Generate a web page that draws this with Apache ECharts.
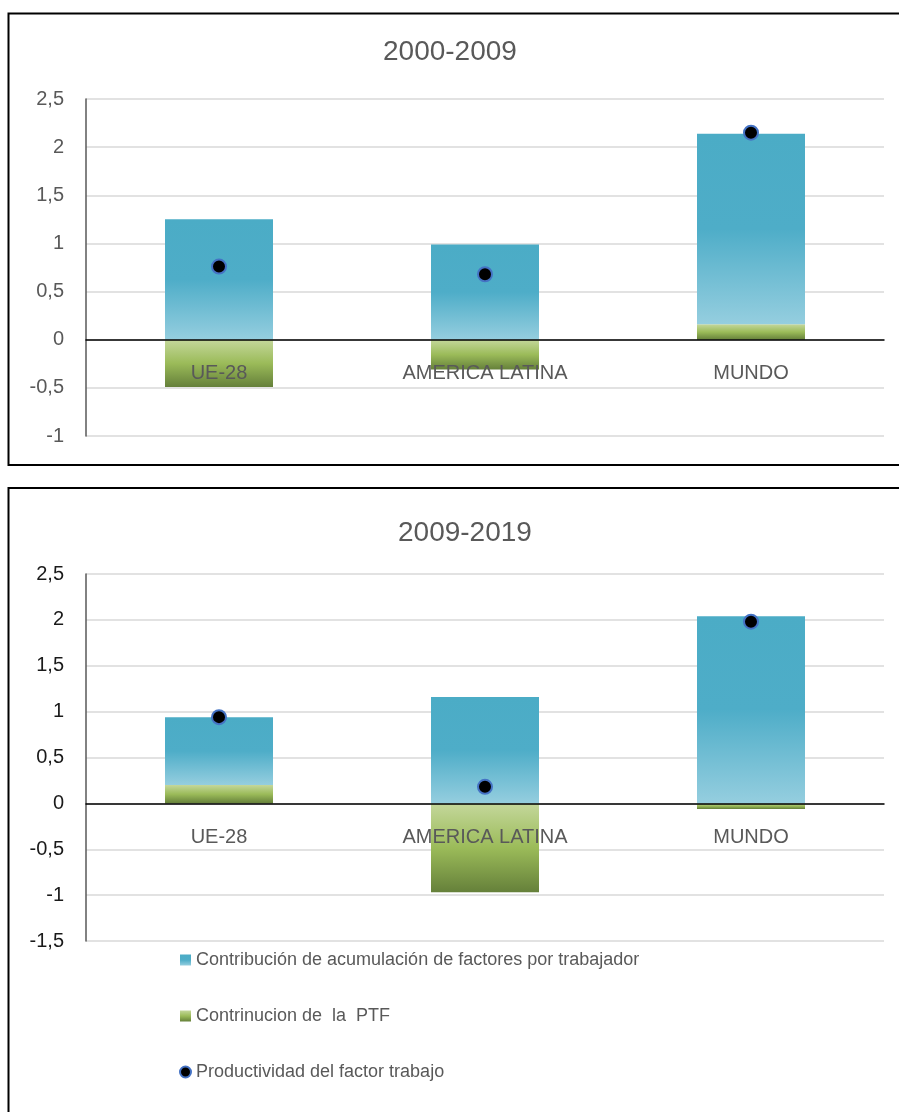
<!DOCTYPE html>
<html>
<head>
<meta charset="utf-8">
<script src="https://cdn.jsdelivr.net/npm/echarts@6/dist/echarts.min.js"></script>
<style>
  html, body { margin: 0; padding: 0; background: #fff; }
  #chart { width: 899px; height: 1112px; }
</style>
</head>
<body>
<div id="chart"></div>
<script>
const categories = ['UE-28', 'AMERICA LATINA', 'MUNDO'];

// 2000-2009
const acumulacion2000 = [1.25, 0.99, 1.98];
const ptf2000 = [-0.49, -0.31, 0.16];
const productividad2000 = [0.76, 0.68, 2.15];

// 2009-2019
const acumulacion2009 = [0.74, 1.16, 2.04];
const ptf2009 = [0.20, -0.97, -0.06];
const productividad2009 = [0.94, 0.18, 1.98];

const nameAcum = 'Contribución de acumulación de factores por trabajador';
const namePtf = 'Contrinucion de  la  PTF';
const nameProd = 'Productividad del factor trabajo';

const font = 'Liberation Sans';

const blueFill = new echarts.graphic.LinearGradient(0, 0, 0, 1, [
    { offset: 0, color: '#4BACC6' },
    { offset: 0.5, color: '#4EADC8' },
    { offset: 1, color: '#95CEDF' }
]);

const greenFill = new echarts.graphic.LinearGradient(0, 0, 0, 1, [
    { offset: 0, color: '#C4D79B' },
    { offset: 0.5, color: '#9BBB59' },
    { offset: 1, color: '#65803A' }
]);

const splitLine = {
    show: true,
    lineStyle: {
        color: '#d9d9d9',
        width: 1.5
    }
}

// labels sit just under the zero line, not under the grid
const makeXAxis = (gridIndex, labelMargin) => ({
    type: 'category',
    gridIndex,
    data: categories,
    z: 3,
    axisLine: {
        show: true,
        onZero: true,
        lineStyle: { color: '#000', width: 1.5 }
    },
    axisTick: { show: false },
    axisLabel: {
        margin: labelMargin,
        fontSize: 20,
        fontFamily: font,
        color: '#595959'
    }
});

const makeYAxis = (gridIndex, min, labelColor) => ({
    type: 'value',
    gridIndex,
    min,
    max: 2.5,
    interval: 0.5,
    axisLine: {
        show: true,
        lineStyle: { color: '#595959', width: 1.5 }
    },
    axisTick: { show: false },
    splitLine,
    axisLabel: {
        margin: 22,
        fontSize: 20,
        fontFamily: font,
        color: labelColor,
        formatter: (v) => String(v).replace('.', ',')
    }
});

const makeSeries = (idx, ptf, acum, prod) => [
    {
        name: namePtf,
        type: 'bar',
        xAxisIndex: idx,
        yAxisIndex: idx,
        stack: 'total' + idx,
        barWidth: 108,
        itemStyle: { color: greenFill },
        data: ptf
    },
    {
        name: nameAcum,
        type: 'bar',
        xAxisIndex: idx,
        yAxisIndex: idx,
        stack: 'total' + idx,
        barWidth: 108,
        itemStyle: { color: blueFill },
        data: acum
    },
    {
        name: nameProd,
        type: 'scatter',
        xAxisIndex: idx,
        yAxisIndex: idx,
        symbol: 'circle',
        symbolSize: 14,
        z: 5,
        itemStyle: {
            color: '#000',
            borderColor: '#4472C4',
            borderWidth: 2,
            opacity: 1
        },
        data: prod
    }
];

const option = {
    animation: false,
    backgroundColor: '#fff',
    title: [
        {
            text: '2000-2009',
            left: 378,
            top: 33,
            textStyle: { fontSize: 28, fontWeight: 'normal', fontFamily: font, color: '#595959' }
        },
        {
            text: '2009-2019',
            left: 393,
            top: 514,
            textStyle: { fontSize: 28, fontWeight: 'normal', fontFamily: font, color: '#595959' }
        }
    ],
    legend: {
        orient: 'vertical',
        left: 174,
        top: 946,
        itemGap: 38,
        itemWidth: 11,
        itemHeight: 11,
        textStyle: { fontSize: 18, fontFamily: font, color: '#595959' },
        data: [
            { name: nameAcum, icon: 'rect' },
            { name: namePtf, icon: 'rect' },
            { name: nameProd, icon: 'circle' }
        ]
    },
    graphic: [
        {
            type: 'rect',
            shape: { x: 8.5, y: 13.5, width: 900, height: 451.5 },
            style: { fill: 'none', stroke: '#000', lineWidth: 2 }
        },
        {
            type: 'rect',
            shape: { x: 8.5, y: 488, width: 900, height: 640 },
            style: { fill: 'none', stroke: '#000', lineWidth: 2 }
        }
    ],
    grid: [
        { left: 86, top: 99, width: 798, height: 337 },
        { left: 86, top: 574, width: 798, height: 367 }
    ],
    xAxis: [makeXAxis(0, -73), makeXAxis(1, -114)],
    yAxis: [makeYAxis(0, -1, '#595959'), makeYAxis(1, -1.5, '#1a1a1a')],
    series: [
        ...makeSeries(0, ptf2000, acumulacion2000, productividad2000),
        ...makeSeries(1, ptf2009, acumulacion2009, productividad2009)
    ]
};

const chart = echarts.init(document.getElementById('chart'));
chart.setOption(option);
window.addEventListener('resize', () => {
    chart.resize();
})
</script>
</body>
</html>
